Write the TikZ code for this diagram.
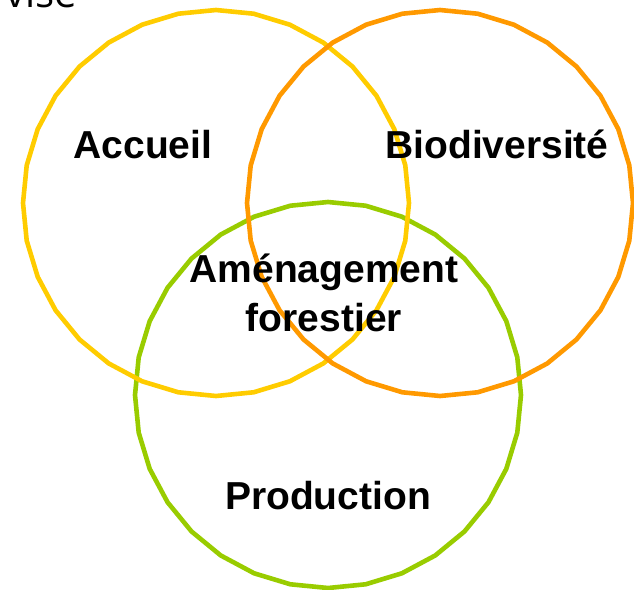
\documentclass[tikz,border=0pt]{standalone}
\usepackage{fontspec}
\setmainfont{Liberation Sans}
\newfontfamily\titlefont{Open Sans}
\definecolor{accueilcol}{HTML}{FFCC00}
\definecolor{biocol}{HTML}{FF9900}
\definecolor{prodcol}{HTML}{99CC00}
\tikzset{
  ring/.style={line width=4.6pt, line join=round},
  label/.style={font=\bfseries\fontsize{39}{49}\selectfont, align=center, inner sep=0pt, anchor=base}
}
\begin{document}
\begin{tikzpicture}[x=1pt, y=-1pt]
    % cadre de l'image
    \useasboundingbox (0,0) rectangle (634,589);

    % rayon commun des trois cercles
    \def\r{193}

    % centres
    \coordinate (A) at (216,203);
    \coordinate (B) at (440,203);
    \coordinate (P) at (328,395);

    % cercles (polygones a 32 cotes), vert dessous, orange dessus
    \draw[ring, prodcol] plot[samples=33, domain=0:360] ({328+\r*cos(\x)},{395+\r*sin(\x)});
    \draw[ring, accueilcol] plot[samples=33, domain=0:360] ({216+\r*cos(\x)},{203+\r*sin(\x)});
    \draw[ring, biocol] plot[samples=33, domain=0:360] ({440+\r*cos(\x)},{203+\r*sin(\x)});

    % titre coupe en haut
    \node[font=\titlefont\fontsize{40}{48}\selectfont, anchor=base east, inner sep=0pt] (titre) at (77,7) {vise};

    % textes
    \node[label] (accueil) at (143,158) {Accueil};
    \node[label] (bio) at (497,158) {Biodiversité};
    \node[label] (amenag) at (324,331) {Aménagement\\forestier};
    \node[label] (prod) at (328,509) {Production};

\end{tikzpicture}
\end{document}
